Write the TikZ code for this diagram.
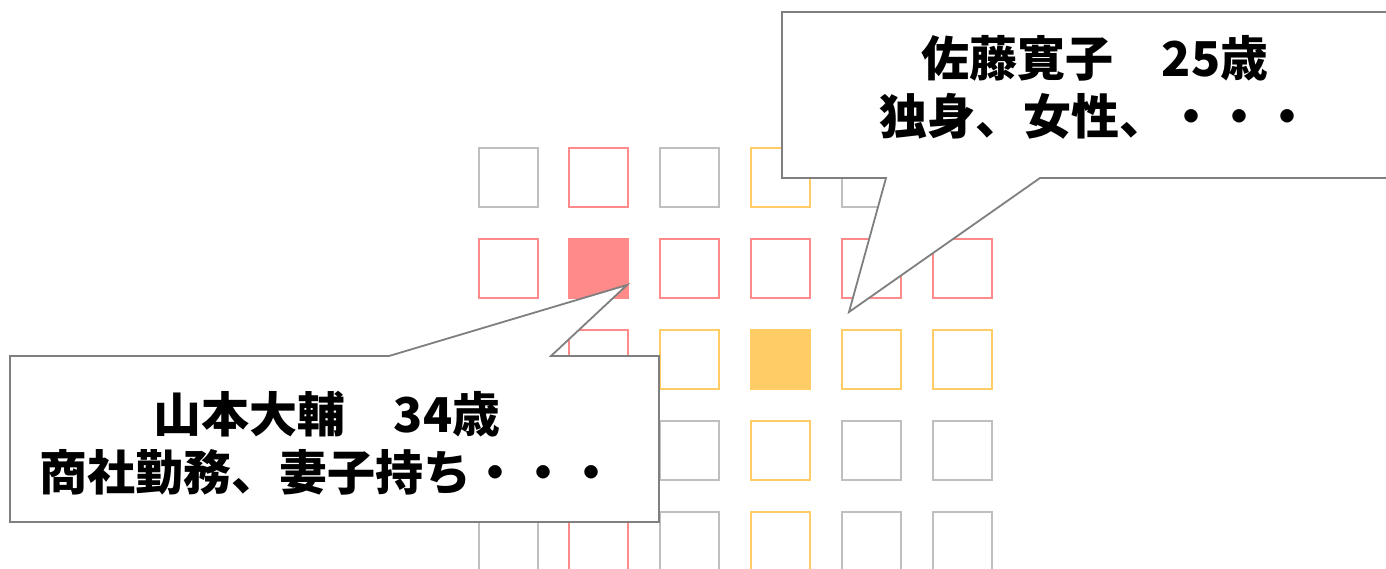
\documentclass[tikz,border=0pt]{standalone}
\usepackage{fontspec}
\newfontfamily\cjk{Noto Sans CJK JP}
\definecolor{cellred}{HTML}{FF8A8A}
\definecolor{cellorange}{HTML}{FFCC66}
\definecolor{cellgray}{HTML}{BFBFBF}
\definecolor{calloutgray}{HTML}{7F7F7F}
\tikzset{
  cell/.style={draw, line width=2pt, minimum size=59pt, inner sep=0pt, outer sep=0pt},
  gcell/.style={cell, draw=cellgray},
  rcell/.style={cell, draw=cellred},
  ocell/.style={cell, draw=cellorange},
  rfill/.style={cell, draw=cellred, fill=cellred},
  ofill/.style={cell, draw=cellorange, fill=cellorange},
  callout/.style={draw=calloutgray, fill=white, line width=1.8pt, line join=miter},
  ctext/.style={font=\cjk\bfseries\fontsize{48}{58}\selectfont, align=center, inner sep=0pt}
}
\begin{document}
\begin{tikzpicture}[x=1pt, y=-1pt]
\clip (0,0) rectangle (1386,569);
\fill[white] (0,0) rectangle (1386,569);
% grid
\foreach \r/\y in {1/177.5, 2/268.5, 3/359.3, 4/450.2, 5/541}{
  \foreach \c/\x in {1/508, 2/598, 3/689, 4/780, 5/871, 6/962}{
    \pgfmathtruncatemacro{\rr}{\r}
    \pgfmathtruncatemacro{\cc}{\c}
    \ifnum\rr=2
      \ifnum\cc=2 \def\st{rfill}\else\def\st{rcell}\fi
    \else\ifnum\cc=2
      \def\st{rcell}
    \else\ifnum\rr=3
      \ifnum\cc=4 \def\st{ofill}\else\def\st{ocell}\fi
    \else\ifnum\cc=4
      \def\st{ocell}
    \else
      \def\st{gcell}
    \fi\fi\fi\fi
    \node[\st] (c-\r-\c) at (\x,\y) {};
  }
}
% upper callout
\coordinate (tipA) at (849,312);
\draw[callout] (782,12) -- (1410,12) -- (1410,178) -- (1040,178) -- (tipA) -- (886,178) -- (782,178) -- cycle;
\node[ctext] (tA) at (1095,87) {佐藤寛子　25歳\\独身、女性、・・・};
% lower callout
\coordinate (tipB) at (627,285);
\draw[callout] (10,356) -- (389,356) -- (tipB) -- (551,356) -- (659,356) -- (659,522) -- (10,522) -- cycle;
\node[ctext] (tB) at (327,443) {山本大輔　34歳\\商社勤務、妻子持ち・・・};
\end{tikzpicture}
\end{document}
